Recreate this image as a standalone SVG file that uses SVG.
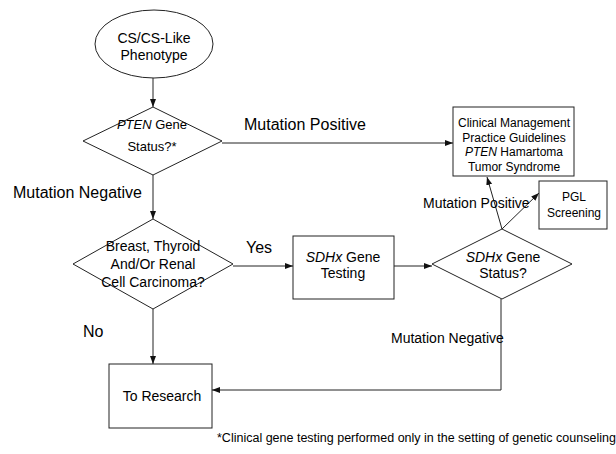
<svg xmlns="http://www.w3.org/2000/svg" width="616" height="454" viewBox="0 0 616 454">
<style>
  .shape { fill: #fff; stroke: #222; stroke-width: 1; }
  .conn { fill: none; stroke: #222; stroke-width: 1; }
  text { font-family: "Liberation Sans", Arial, sans-serif; fill: #000; }
  .t14 { font-size: 14px; text-anchor: middle; }
  .t13 { font-size: 13px; text-anchor: middle; }
  .t12 { font-size: 12px; text-anchor: middle; }
  .lbl16 { font-size: 16px; }
  .lbl14 { font-size: 14px; }
</style>
<defs>
  <marker id="arr" markerWidth="8" markerHeight="8" refX="8" refY="4" orient="auto" markerUnits="userSpaceOnUse">
    <path d="M0,1 L8,4 L0,7 Z" fill="#111"/>
  </marker>
</defs>
<rect width="616" height="454" fill="#fff"/>

<g id="connectors">
  <line class="conn" x1="153" y1="78" x2="153" y2="107" marker-end="url(#arr)"/>
  <line class="conn" x1="222" y1="143" x2="453" y2="143" marker-end="url(#arr)"/>
  <line class="conn" x1="153" y1="175" x2="153" y2="219" marker-end="url(#arr)"/>
  <line class="conn" x1="233" y1="266" x2="293" y2="266" marker-end="url(#arr)"/>
  <line class="conn" x1="394" y1="266" x2="432" y2="266" marker-end="url(#arr)"/>
  <line class="conn" x1="502" y1="229" x2="487" y2="177" marker-end="url(#arr)"/>
  <line class="conn" x1="502" y1="229" x2="539" y2="193" marker-end="url(#arr)"/>
  <line class="conn" x1="153" y1="309" x2="153" y2="364" marker-end="url(#arr)"/>
  <polyline class="conn" points="501,299 501,390 212,390" marker-end="url(#arr)"/>
</g>

<g id="phenotype">
  <ellipse class="shape" cx="154" cy="44" rx="59" ry="34"/>
  <text class="t14" x="154" y="43">CS/CS-Like</text>
  <text class="t14" x="154" y="60">Phenotype</text>
</g>

<g id="pten-status">
  <polygon class="shape" points="153,107 222,141 153,175 83,141"/>
  <text class="t13" x="152" y="129"><tspan font-style="italic">PTEN</tspan> Gene</text>
  <text class="t13" x="152" y="151">Status?*</text>
</g>

<g id="clinical">
  <rect class="shape" x="453" y="107" width="121" height="69"/>
  <text class="t12" x="514" y="127">Clinical Management</text>
  <text class="t12" x="514" y="141.5">Practice Guidelines</text>
  <text class="t12" x="514" y="156"><tspan font-style="italic">PTEN</tspan> Hamartoma</text>
  <text class="t12" x="514" y="170.5">Tumor Syndrome</text>
</g>

<g id="pgl">
  <rect class="shape" x="539" y="181" width="68" height="48"/>
  <text class="t12" x="574" y="201">PGL</text>
  <text class="t12" x="574" y="217">Screening</text>
</g>

<g id="carcinoma">
  <polygon class="shape" points="153,219 233,264 153,309 73,264"/>
  <text class="t14" x="153" y="251">Breast, Thyroid</text>
  <text class="t14" x="153" y="269">And/Or Renal</text>
  <text class="t14" x="153" y="287">Cell Carcinoma?</text>
</g>

<g id="sdhx-testing">
  <rect class="shape" x="293" y="236" width="101" height="63"/>
  <text class="t14" x="343" y="262"><tspan font-style="italic">SDHx</tspan> Gene</text>
  <text class="t14" x="343" y="278">Testing</text>
</g>

<g id="sdhx-status">
  <polygon class="shape" points="502,229 572,264 502,299 432,264"/>
  <text class="t14" x="503" y="262"><tspan font-style="italic">SDHx</tspan> Gene</text>
  <text class="t14" x="503" y="278">Status?</text>
</g>

<g id="research">
  <rect class="shape" x="109" y="364" width="103" height="64"/>
  <text class="t14" x="162" y="401">To Research</text>
</g>

<g id="labels">
  <text class="lbl16" x="244" y="130">Mutation Positive</text>
  <text class="lbl16" x="13" y="198">Mutation Negative</text>
  <text class="lbl16" x="246" y="253">Yes</text>
  <text class="lbl16" x="83" y="337">No</text>
  <text class="lbl14" x="423" y="208">Mutation Positive</text>
  <text class="lbl14" x="391" y="343">Mutation Negative</text>
  <text x="217" y="442" font-size="12.5">*Clinical gene testing performed only in the setting of genetic counseling</text>
</g>
</svg>
